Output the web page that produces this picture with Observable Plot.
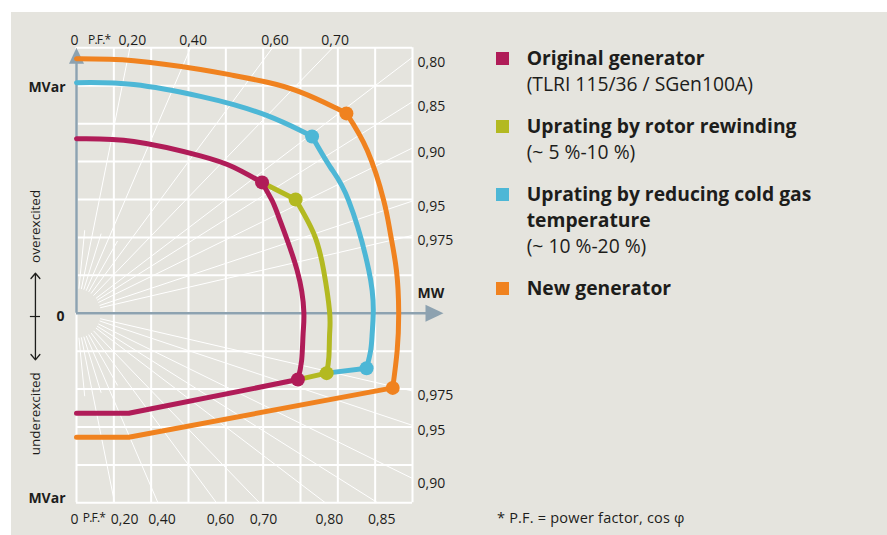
<!DOCTYPE html>
<html><head><meta charset="utf-8">
<script src="https://cdn.jsdelivr.net/npm/d3@7"></script>
<script src="https://cdn.jsdelivr.net/npm/@observablehq/plot@0.6"></script>
<style>
html,body{margin:0;padding:0;background:#fff;}
#root{position:relative;width:887px;height:535px;overflow:hidden;font-family:"Open Sans",sans-serif;color:#1d1d1b;}
#panel{position:absolute;left:11px;top:12px;right:0;bottom:0;background:#e5e4de;}
#chart{position:absolute;left:0;top:0;}
#legend{position:absolute;left:496px;top:45px;}
.item{display:flex;margin-bottom:16px;}
.sw{width:13px;height:13px;margin-top:7px;margin-right:17.7px;flex:none;}
.txt{font-size:19.3px;line-height:26px;width:350px;}
.txt b{font-weight:700;}
#foot{position:absolute;left:497px;top:509px;font-size:14.5px;line-height:18px;letter-spacing:0.2px;}
</style></head>
<body>
<div id="root"><div id="panel"></div><div id="chart"></div><div id="legend"></div><div id="foot"></div></div>
<script>
// ---------- data (grid units: x = MW, y = MVar) ----------
const seriesNames  = ["Original generator", "Uprating by rotor rewinding", "Uprating by reducing cold gas temperature", "New generator"];
const seriesNotes  = ["(TLRI 115/36 / SGen100A)", "(~ 5 %-10 %)", "(~ 10 %-20 %)", ""];
const seriesColors = ["#b01c58", "#b3b921", "#4db7d6", "#f0821f"];

const originalTop    = [[0,4.60],[1.535,4.53],[3.32,4.15],[4.21,3.85],[4.97,3.45]];
const originalSide   = [[4.97,3.45],[5.24,2.97],[5.42,2.53],[5.91,1.13],[6.09,0.03],[6.07,-0.54],[6.03,-1.25],[5.93,-1.75]];
const originalBottom = [[5.93,-1.75],[1.40,-2.64],[0,-2.64]];

const rotorTop    = [[4.97,3.45],[5.87,3.00]];
const rotorSide   = [[5.87,3.00],[6.36,2.09],[6.62,1.13],[6.78,0.03],[6.78,-0.54],[6.76,-1.16],[6.70,-1.58]];
const rotorBottom = [[5.93,-1.75],[6.70,-1.58]];

const coldTop    = [[0,6.08],[1.535,6.03],[3.32,5.72],[4.21,5.50],[5.11,5.21],[6.00,4.82],[6.31,4.66]];
const coldSide   = [[6.31,4.66],[6.80,3.85],[7.29,2.97],[7.83,1.13],[7.95,0.03],[7.92,-0.54],[7.88,-0.98],[7.77,-1.45]];
const coldBottom = [[6.70,-1.58],[7.77,-1.45]];

const newTop    = [[0,6.71],[1.535,6.66],[3.32,6.43],[4.21,6.27],[5.11,6.09],[6.00,5.83],[6.89,5.44],[7.23,5.27]];
const newSide   = [[7.23,5.27],[7.79,4.29],[8.23,2.97],[8.41,2.09],[8.57,1.13],[8.63,0.03],[8.59,-0.98],[8.47,-1.97]];
const newBottom = [[8.47,-1.97],[1.40,-3.27],[0,-3.27]];

// power-factor rays and their labels
const pfRays       = [0.2, 0.4, 0.6, 0.7, 0.8, 0.85, 0.9, 0.95, 0.975];
const pfShortRays  = [0.1, 0.3, 0.5];
const topPF        = [0.2, 0.4, 0.6, 0.7];
const topLabels    = ["0,20", "0,40", "0,60", "0,70"];
const bottomPF     = [0.2, 0.4, 0.6, 0.7, 0.8, 0.85];
const bottomLabels = ["0,20", "0,40", "0,60", "0,70", "0,80", "0,85"];
const rightUpPF    = [0.8, 0.85, 0.9, 0.95, 0.975];
const rightUpLabels= ["0,80", "0,85", "0,90", "0,95", "0,975"];
const rightLoPF    = [0.975, 0.95, 0.9];
const rightLoLabels= ["0,975", "0,95", "0,90"];

const gridX = [0,1,2,3,4,5,6,7,8,9];
const gridY = [-5,-4,-3,-2,-1,0,1,2,3,4,5,6,7];

// ---------- drawing ----------
const W = 480, H = 535;
const X0 = 0, X1 = 9, Ytop = 7, Ybot = -5;
const axisGray = "#8da2b0", ink = "#1d1d1b";
const r0 = 0.65;

function ray(p, sign, full) {
  const th = Math.acos(p), c = Math.cos(th), s = Math.sin(th);
  const lim = sign > 0 ? Ytop : -Ybot;
  const t = full ? Math.min(X1 / c, lim / s) : 2.2;
  return {x1: r0 * c, y1: sign * r0 * s, x2: t * c, y2: sign * t * s};
}
const rays = [
  ...pfRays.map(p => ray(p, 1, true)), ...pfRays.map(p => ray(p, -1, true)),
  ...pfShortRays.map(p => ray(p, 1, false)), ...pfShortRays.map(p => ray(p, -1, false))
];
const tanPF = p => Math.sqrt(1 - p * p) / p;
const bottomX = p => -Ybot * p / Math.sqrt(1 - p * p);

const triUp = {draw(ctx){ ctx.moveTo(0,0); ctx.lineTo(7.5,16); ctx.lineTo(-7.5,16); ctx.closePath(); }};
const triRight = {draw(ctx){ ctx.moveTo(0,0); ctx.lineTo(-18,8.5); ctx.lineTo(-18,-8.5); ctx.closePath(); }};

const xy = {x: d => d[0], y: d => d[1]};
const arc = (data, color) => Plot.line(data, {...xy, stroke: color, strokeWidth: 5, curve: "natural", strokeLinejoin: "round"});
const seg = (data, color) => Plot.line(data, {...xy, stroke: color, strokeWidth: 5, strokeLinejoin: "round"});
const [cOrig, cRotor, cCold, cNew] = seriesColors;

const dots = [
  {p: newSide[0], c: cNew}, {p: newSide[newSide.length-1], c: cNew},
  {p: coldSide[0], c: cCold}, {p: coldSide[coldSide.length-1], c: cCold},
  {p: rotorSide[0], c: cRotor}, {p: rotorSide[rotorSide.length-1], c: cRotor},
  {p: originalSide[0], c: cOrig}, {p: originalSide[originalSide.length-1], c: cOrig}
];

const plot = Plot.plot({
  width: W, height: H,
  marginLeft: 76, marginRight: W - 412, marginTop: 47.3, marginBottom: H - 502.3,
  x: {domain: [X0, X1], axis: null},
  y: {domain: [Ybot, Ytop], axis: null},
  style: {background: "transparent", fontFamily: '"Open Sans", sans-serif', fontSize: "14px", color: ink, overflow: "visible"},
  marks: [
    Plot.ruleX(gridX, {y1: Ybot, y2: Ytop, stroke: "white", strokeWidth: 2}),
    Plot.ruleY(gridY, {x1: X0, x2: X1, stroke: "white", strokeWidth: 2}),
    Plot.link(rays, {x1: "x1", y1: "y1", x2: "x2", y2: "y2", stroke: "white", strokeWidth: 1}),
    // axes with arrowheads
    Plot.ruleX([0], {y1: 0, y2: 6.6, stroke: axisGray, strokeWidth: 2.5}),
    Plot.ruleY([0], {x1: 0, x2: 9.4, stroke: axisGray, strokeWidth: 2.5}),
    Plot.dot([[0, Ytop]], {...xy, symbol: triUp, r: 5, fill: axisGray}),
    Plot.dot([[9.83, 0]], {...xy, symbol: triRight, r: 5, fill: axisGray}),
    // capability curves
    arc(newTop, cNew), arc(newSide, cNew), seg(newBottom, cNew),
    arc(coldTop, cCold), arc(coldSide, cCold), seg(coldBottom, cCold),
    seg(rotorTop, cRotor), arc(rotorSide, cRotor), seg(rotorBottom, cRotor),
    arc(originalTop, cOrig), arc(originalSide, cOrig), seg(originalBottom, cOrig),
    Plot.dot(dots, {x: d => d.p[0], y: d => d.p[1], r: 7, fill: d => d.c}),
    // power factor labels
    Plot.text(topPF, {x: p => Ytop * p / Math.sqrt(1 - p * p), y: Ytop, text: (p, i) => topLabels[i], dx: 2.5, dy: -7, fill: ink}),
    Plot.text(bottomPF.slice(0, 1), {x: bottomX, y: Ybot, text: (p, i) => bottomLabels[i], dx: 10, dy: 16.7, fill: ink}),
    Plot.text(bottomPF.slice(1), {x: bottomX, y: Ybot, text: (p, i) => bottomLabels[i + 1], dx: 4, dy: 16.7, fill: ink}),
    Plot.text(rightUpPF, {x: X1, y: p => X1 * tanPF(p), text: (p, i) => rightUpLabels[i], dx: 5, dy: 5, textAnchor: "start", fill: ink}),
    Plot.text(rightLoPF, {x: X1, y: p => -X1 * tanPF(p), text: (p, i) => rightLoLabels[i], dx: 5, dy: 5, textAnchor: "start", fill: ink}),
    Plot.text(["0"], {x: 0, y: Ytop, dx: -2, dy: -7, fill: ink}),
    Plot.text(["0"], {x: 0, y: Ybot, dx: -2, dy: 16.7, fill: ink}),
    Plot.text(["P.F.*"], {x: 0, y: Ytop, dx: 22.7, dy: -8, fontSize: 12, fill: ink}),
    Plot.text(["P.F.*"], {x: 0, y: Ybot, dx: 17.5, dy: 15.7, fontSize: 12, fill: ink}),
    // axis titles
    Plot.text(["MW"], {x: X1, y: 0, dx: 5, dy: -19.5, textAnchor: "start", fontWeight: "bold", fill: ink}),
    Plot.text(["MVar"], {frameAnchor: "top-left", dx: -11, dy: 40, textAnchor: "end", lineAnchor: "middle", fontWeight: "bold", fill: ink}),
    Plot.text(["MVar"], {frameAnchor: "bottom-left", dx: -11, dy: -4.3, textAnchor: "end", lineAnchor: "middle", fontWeight: "bold", fill: ink}),
    Plot.text(["0"], {x: 0, y: 0, dx: -16, dy: 3.5, fontWeight: "bold", fill: ink}),
    Plot.text(["overexcited"], {x: -1.1, y: 2.29, rotate: -90, fontSize: 13.5, fill: ink}),
    Plot.text(["underexcited"], {x: -1.1, y: -2.65, rotate: -90, fontSize: 13.5, fill: ink}),
    Plot.arrow([{y2: 1.055}, {y2: -1.229}], {x1: -1.1, y1: -0.087, x2: -1.1, y2: "y2", stroke: ink, strokeWidth: 1.3, headLength: 8, headAngle: 80}),
    Plot.ruleY([-0.087], {x1: -1.235, x2: -0.965, stroke: ink, strokeWidth: 1.2})
  ]
});
d3.select(plot).selectAll("text").filter(function(){ return this.textContent === "P.F.*"; }).attr("letter-spacing", "-0.8");
document.getElementById("chart").appendChild(plot);

// legend
const legend = d3.select("#legend");
seriesNames.forEach((name, i) => {
  const item = legend.append("div").attr("class", "item");
  item.append("div").attr("class", "sw").style("background", seriesColors[i]);
  const t = item.append("div").attr("class", "txt");
  t.append("b").text(name);
  if (seriesNotes[i]) { t.append("br"); t.append("span").text(seriesNotes[i]); }
});
document.getElementById("foot").textContent = "* P.F. = power factor, cos φ";
</script>
</body></html>
